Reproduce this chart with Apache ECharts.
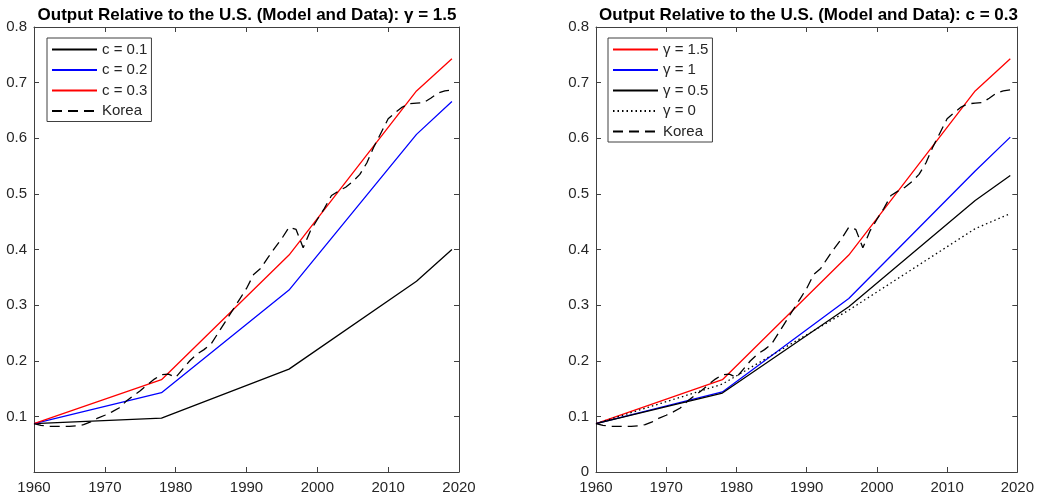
<!DOCTYPE html>
<html>
<head>
<meta charset="utf-8">
<script src="https://cdn.jsdelivr.net/npm/echarts@6/dist/echarts.min.js"></script>
<style>
  html, body { margin: 0; padding: 0; background: #fff; }
  #chart { width: 1037px; height: 498px; }
</style>
</head>
<body>
<div id="chart"></div>
<script>
// ---- data ----
const modelYears = [1960, 1978, 1996, 2014, 2019];
// left panel (gamma = 1.5)
const c01 = [0.087, 0.097, 0.185, 0.343, 0.400];
const c02 = [0.087, 0.1425, 0.327, 0.607, 0.666];
const c03 = [0.087, 0.166, 0.390, 0.685, 0.743];
// right panel (c = 0.3)
const g15 = [0.087, 0.166, 0.390, 0.685, 0.743];
const g1  = [0.087, 0.144, 0.312, 0.541, 0.602];
const g05 = [0.087, 0.142, 0.297, 0.488, 0.533];
const g0  = [0.087, 0.158, 0.291, 0.4375, 0.4645];
// Korea data, annual 1960..2019
const koreaStart = 1960;
const korea = [
  0.087, 0.084, 0.082, 0.082, 0.082, 0.082, 0.083, 0.085, 0.090, 0.097,
  0.102, 0.108, 0.115, 0.127, 0.137, 0.146, 0.157, 0.167, 0.175, 0.176,
  0.170, 0.185, 0.200, 0.212, 0.220, 0.230, 0.250, 0.270, 0.290, 0.310,
  0.330, 0.355, 0.366, 0.385, 0.403, 0.420, 0.440, 0.436, 0.403, 0.433,
  0.454, 0.474, 0.497, 0.505, 0.512, 0.522, 0.535, 0.556, 0.585, 0.610,
  0.635, 0.646, 0.656, 0.662, 0.663, 0.664, 0.672, 0.681, 0.685, 0.687
];
const xTicks = { min: 1960, max: 2020, interval: 10 };
const yTicks = { min: 0, max: 0.8, interval: 0.1 };
const titles = [
  'Output Relative to the U.S. (Model and Data): \u03b3 = 1.5',
  'Output Relative to the U.S. (Model and Data): c = 0.3'
];

// ---- helpers ----
const pairs = (xs, ys) => xs.map((x, i) => [x, ys[i]]);
const koreaData = korea.map((v, i) => [koreaStart + i, v]);
const FONT = 'Liberation Sans, Arial, Helvetica, sans-serif';
const AX = '#404040';
const LBL = 15;

function xAxes(g) {
  const base = {
    type: 'value', gridIndex: g, min: xTicks.min, max: xTicks.max, interval: xTicks.interval,
    axisLine: { show: true, onZero: false, lineStyle: { color: AX, width: 1 } },
    axisTick: { show: true, inside: true, length: 5, lineStyle: { color: AX } },
    splitLine: { show: false }
  };
  return [
    Object.assign({}, base, { position: 'bottom',
      axisLabel: { color: '#262626', fontSize: LBL, fontFamily: FONT, margin: 8,
        formatter: v => String(Math.round(v)) } }),
    Object.assign({}, base, { position: 'top', axisLabel: { show: false } })
  ];
}
function yAxes(g, showZero) {
  const base = {
    type: 'value', gridIndex: g, min: yTicks.min, max: yTicks.max, interval: yTicks.interval,
    axisLine: { show: true, onZero: false, lineStyle: { color: AX, width: 1 } },
    axisTick: { show: true, inside: true, length: 5, lineStyle: { color: AX } },
    splitLine: { show: false }
  };
  return [
    Object.assign({}, base, { position: 'left',
      axisLabel: { color: '#262626', fontSize: LBL, fontFamily: FONT, margin: 7,
        formatter: v => (Math.abs(v) < 1e-9 ? (showZero ? '0' : '') : (+v).toFixed(1)) } }),
    Object.assign({}, base, { position: 'right', axisLabel: { show: false } })
  ];
}
function line(name, data, color, type, g) {
  return {
    name, type: 'line', data, xAxisIndex: g * 2, yAxisIndex: g * 2,
    symbol: 'none', smooth: false, silent: true,
    lineStyle: { color, width: 1.3, type },
    itemStyle: { color }
  };
}
const DASH = [10, 6];
const DOT = [1.5, 3];

const legendBase = {
  orient: 'vertical', itemWidth: 45, itemHeight: 14, itemGap: 5.5,
  padding: [4, 4, 3, 4], borderColor: '#404040', borderWidth: 1, backgroundColor: '#fff',
  textStyle: { color: '#262626', fontSize: LBL, fontFamily: FONT },
  itemStyle: { color: 'rgba(0,0,0,0)', borderWidth: 0, opacity: 0 },
  selectedMode: false
};

const titleStyle = { fontSize: 17, fontWeight: 'bold', color: '#000', fontFamily: FONT };
const option = {
  animation: false,
  backgroundColor: '#fff',
  title: [
    { text: titles[0], left: 242, textAlign: 'center', top: 2, textStyle: titleStyle },
    { text: titles[1], left: 803.5, textAlign: 'center', top: 2, textStyle: titleStyle }
  ],
  grid: [
    { left: 34, top: 27, width: 425, height: 445 },
    { left: 596, top: 27, width: 424, height: 445 }
  ],
  xAxis: [...xAxes(0), ...xAxes(1)],
  yAxis: [...yAxes(0, false), ...yAxes(1, true)],
  legend: [
    Object.assign({}, legendBase, { left: 47, top: 38,
      data: ['c = 0.1', 'c = 0.2', 'c = 0.3', 'Korea'] }),
    Object.assign({}, legendBase, { left: 608, top: 38,
      data: ['\u03b3 = 1.5', '\u03b3 = 1', '\u03b3 = 0.5', '\u03b3 = 0', 'Korea'] })
  ],
  series: [
    line('c = 0.1', pairs(modelYears, c01), '#000000', 'solid', 0),
    line('c = 0.2', pairs(modelYears, c02), '#0000ff', 'solid', 0),
    line('c = 0.3', pairs(modelYears, c03), '#ff0000', 'solid', 0),
    line('Korea', koreaData, '#000000', DASH, 0),
    line('\u03b3 = 1.5', pairs(modelYears, g15), '#ff0000', 'solid', 1),
    line('\u03b3 = 1', pairs(modelYears, g1), '#0000ff', 'solid', 1),
    line('\u03b3 = 0.5', pairs(modelYears, g05), '#000000', 'solid', 1),
    line('\u03b3 = 0', pairs(modelYears, g0), '#000000', DOT, 1),
    line('Korea', koreaData, '#000000', DASH, 1)
  ]
};
const chart = echarts.init(document.getElementById('chart'), null, { renderer: 'canvas' });
chart.setOption(option);
</script>
</body>
</html>
